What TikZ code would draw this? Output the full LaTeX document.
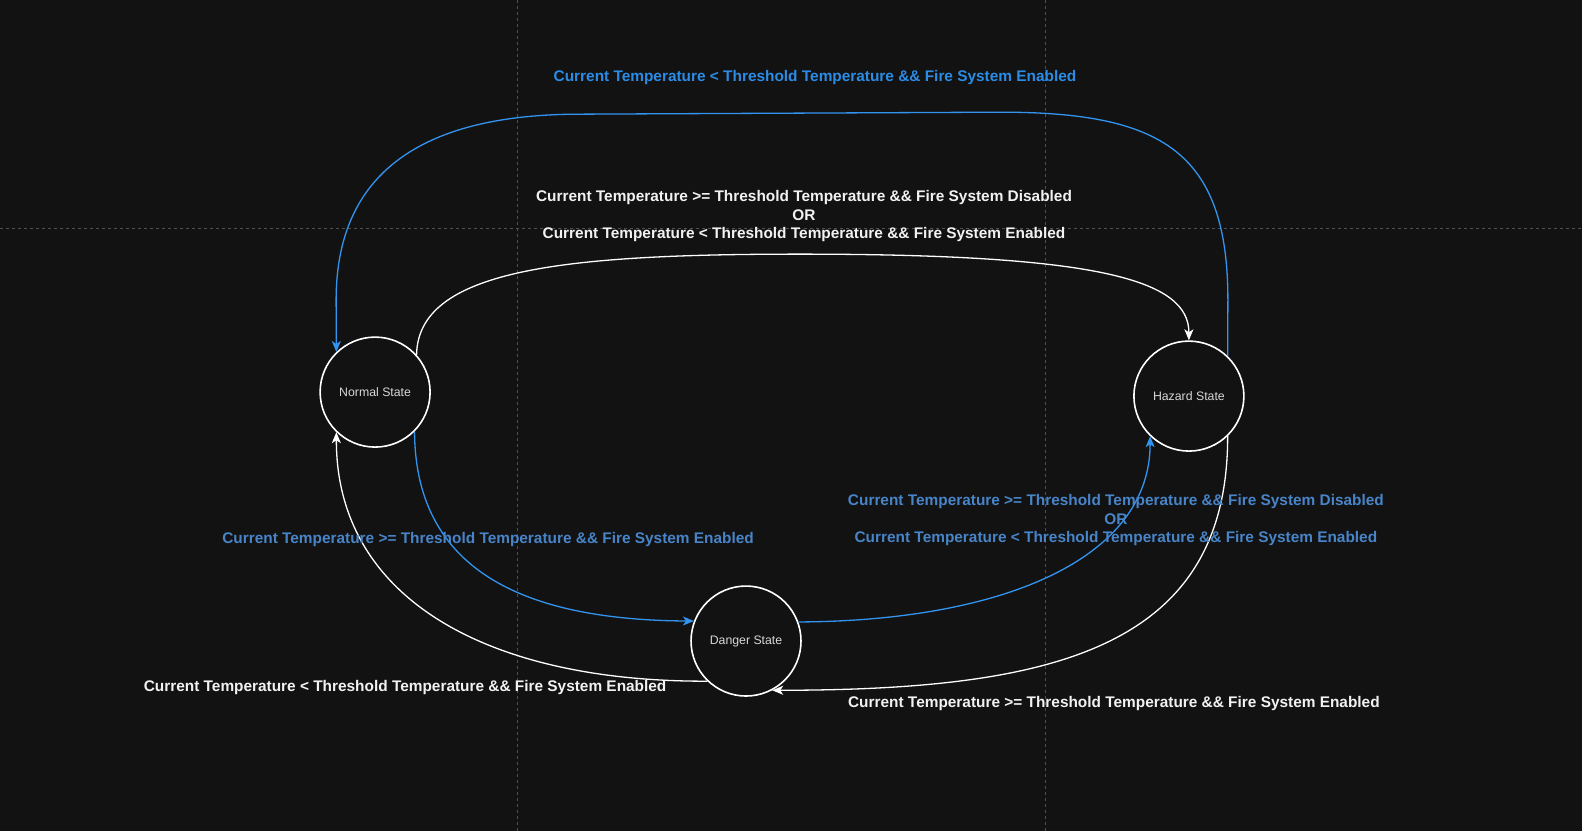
\documentclass[tikz,border=0pt]{standalone}
\usepackage{fontspec}
\setmainfont{Liberation Sans}
\usetikzlibrary{arrows.meta}
\definecolor{bg}{RGB}{18,18,18}
\definecolor{gridgray}{RGB}{80,80,80}
\definecolor{linkblue}{RGB}{51,148,240}
\definecolor{topblue}{RGB}{43,140,230}
\definecolor{condblue}{RGB}{72,132,200}
\definecolor{condwhite}{RGB}{242,242,242}
\definecolor{statetext}{RGB}{215,215,215}
\begin{document}
\begin{tikzpicture}[x=1pt,y=-1pt,
	state/.style={circle,draw=white,line width=1.6pt,minimum size=110pt,inner sep=0pt,text=statetext,font=\fontsize{12.3}{14}\selectfont},
	link/.style={line width=1.3pt,-{Stealth[length=11pt,width=9pt,inset=3pt]}},
	cond/.style={font=\bfseries\fontsize{15.4}{18.5}\selectfont,align=center}]
	\fill[bg] (0,0) rectangle (1582,831);
	\draw[gridgray,dash pattern=on 3pt off 3pt] (517,0) -- (517,831) (1045,0) -- (1045,831) (0,228) -- (1582,228);
	%
	\node[state] (normal) at (375,392) {Normal State};
	\node[state] (danger) at (746,641) {Danger State};
	\node[state] (hazard) at (1189,396) {Hazard State};
	%
	\draw[link,linkblue] (hazard.46) -- (1228,300) .. controls (1228,150) and (1160,112) .. (1000,112) -- (580,114) .. controls (400,114) and (336,190) .. (336,300) -- (normal.134);
	\draw[link,white] (normal.42) .. controls (418,270) and (560,254) .. (800,254) .. controls (1100,254) and (1189,280) .. (hazard.90);
	\draw[link,linkblue] (normal.-45) .. controls (415,580) and (540,620) .. (danger.159);
	\draw[link,white] (danger.226) .. controls (490,682) and (336,600) .. (normal.226);
	\draw[link,linkblue] (danger.20) .. controls (1000,621) and (1150,560) .. (hazard.226);
	\draw[link,white] (hazard.-46) .. controls (1228,650) and (1050,690) .. (danger.-62);
	%
	\node[cond,topblue] (c1) at (815,77) {Current Temperature < Threshold Temperature \&\& Fire System Enabled};
	\node[cond,condwhite] (c2) at (804,216) {Current Temperature >= Threshold Temperature \&\& Fire System Disabled\\OR\\Current Temperature < Threshold Temperature \&\& Fire System Enabled};
	\node[cond,condblue] (c3) at (488,539) {Current Temperature >= Threshold Temperature \&\& Fire System Enabled};
	\node[cond,condblue] (c4) at (1116,520) {Current Temperature >= Threshold Temperature \&\& Fire System Disabled\\OR\\Current Temperature < Threshold Temperature \&\& Fire System Enabled};
	\node[cond,condwhite] (c5) at (405,687) {Current Temperature < Threshold Temperature \&\& Fire System Enabled};
	\node[cond,condwhite] (c6) at (1114,703) {Current Temperature >= Threshold Temperature \&\& Fire System Enabled};
\end{tikzpicture}
\end{document}
